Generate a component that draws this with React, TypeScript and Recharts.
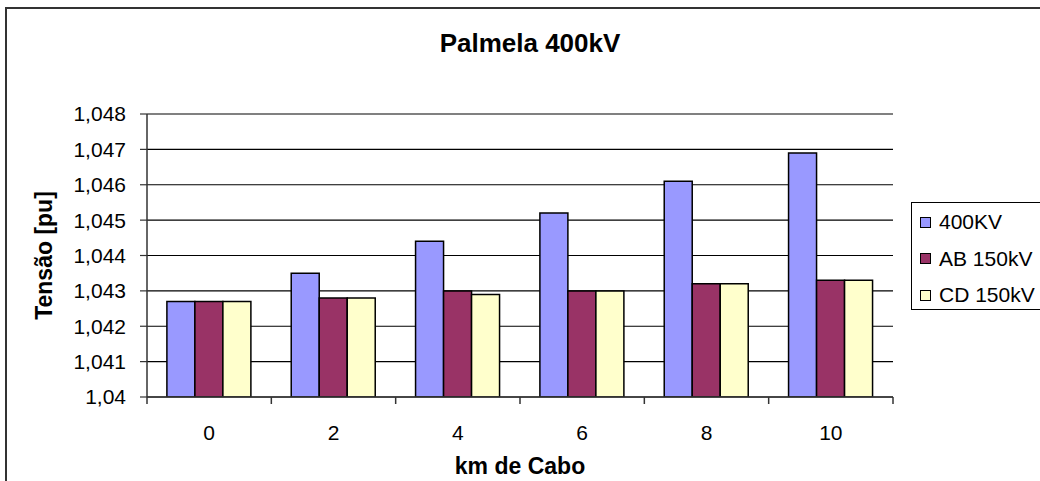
import React from 'react';
import { BarChart, Bar, XAxis, YAxis, CartesianGrid, Legend, ReferenceLine } from 'recharts';

const categories = ['0', '2', '4', '6', '8', '10'];
const s400KV = [1.0427, 1.0435, 1.0444, 1.0452, 1.0461, 1.0469];
const sAB150 = [1.0427, 1.0428, 1.043, 1.043, 1.0432, 1.0433];
const sCD150 = [1.0427, 1.0428, 1.0429, 1.043, 1.0432, 1.0433];
const yTicks = [1.04, 1.041, 1.042, 1.043, 1.044, 1.045, 1.046, 1.047, 1.048];
const seriesNames = ['400KV', 'AB 150kV', 'CD 150kV'];
const seriesColors = ['#9999FF', '#993366', '#FFFFCC'];

const data = categories.map((c, i) => ({
  km: c,
  a: s400KV[i],
  b: sAB150[i],
  c: sCD150[i],
}));

const FONT = '"Liberation Sans", Arial, sans-serif';
const X_TICK_SIZE = 6;
const X_TICK_MARGIN = 22;

const fmtY = (v: number) => Number(v.toFixed(3)).toString().replace('.', ',');

const XTick = (props: any) => {
  const { x, y, payload, index, visibleTicksCount } = props;
  const half = payload && payload.offset != null ? payload.offset : 0;
  const axisY = y - X_TICK_SIZE - X_TICK_MARGIN;
  return (
    <g>
      <line x1={x - half} x2={x - half} y1={axisY} y2={axisY + 7} stroke="#333" strokeWidth={1.5} />
      {index === visibleTicksCount - 1 && (
        <line x1={x + half} x2={x + half} y1={axisY} y2={axisY + 7} stroke="#333" strokeWidth={1.5} />
      )}
      <text x={x} y={y} dy="0.71em" textAnchor="middle" fill="#000" fontSize={21} fontFamily={FONT}>
        {payload.value}
      </text>
    </g>
  );
};

const LegendContent = () => (
  <div
    style={{
      borderTop: '1.5px solid #000',
      borderLeft: '1.5px solid #000',
      borderBottom: '1.5px solid #000',
      borderRight: 'none',
      height: 108,
      width: 129,
      boxSizing: 'border-box',
      paddingTop: 1,
      paddingLeft: 8,
      fontFamily: FONT,
      fontSize: 21,
      color: '#000',
      background: '#fff',
      overflow: 'hidden',
    }}
  >
    {seriesNames.map((n, i) => (
      <div key={n} style={{ display: 'flex', alignItems: 'center', height: 36.5, lineHeight: '24px', whiteSpace: 'nowrap' }}>
        <span
          style={{
            display: 'inline-block',
            width: 11,
            height: 11,
            background: seriesColors[i],
            border: '1px solid #000',
            boxSizing: 'border-box',
            marginRight: 8,
          }}
        />
        <span>{n}</span>
      </div>
    ))}
  </div>
);

export default function App() {
  return (
    <div style={{ position: 'absolute', left: 0, top: 0, width: 1040, height: 481, overflow: 'hidden', background: '#fff' }}>
      <style>{'html,body{overflow:hidden;}'}</style>
      <div
        style={{
          position: 'absolute',
          left: 5,
          top: 7,
          width: 1035,
          height: 474,
          borderTop: '2px solid #333',
          borderLeft: '2px solid #333',
          boxSizing: 'border-box',
        }}
      />
      <div
        style={{
          position: 'absolute',
          left: 0,
          top: 30,
          width: 1060,
          textAlign: 'center',
          fontFamily: FONT,
          fontWeight: 'bold',
          fontSize: 26,
          lineHeight: '26px',
          color: '#000',
          zIndex: 2,
        }}
      >
        Palmela 400kV
      </div>
      <BarChart
        width={1040}
        height={481}
        data={data}
        margin={{ top: 114, right: 147, bottom: 0, left: 0 }}
        barCategoryGap="16%"
        barGap={0}
        style={{ fontFamily: FONT }}
      >
        <CartesianGrid vertical={false} stroke="#000" strokeWidth={1.2} />
        <XAxis
          dataKey="km"
          height={84}
          tickLine={false}
          tickSize={X_TICK_SIZE}
          tickMargin={X_TICK_MARGIN}
          axisLine={{ stroke: '#333', strokeWidth: 1.5 }}
          tick={<XTick />}
          interval={0}
          label={{
            value: 'km de Cabo',
            position: 'insideBottom',
            offset: 7,
            fill: '#000',
            fontSize: 23,
            fontWeight: 'bold',
            fontFamily: FONT,
          }}
        />
        <YAxis
          type="number"
          domain={[1.04, 1.048]}
          ticks={yTicks}
          width={147}
          tickFormatter={fmtY}
          tickSize={7}
          tickMargin={14}
          interval={0}
          axisLine={{ stroke: '#333', strokeWidth: 1.5 }}
          tickLine={{ stroke: '#333', strokeWidth: 1.2 }}
          tick={{ fill: '#000', fontSize: 21, fontFamily: FONT }}
          allowDataOverflow
          label={{
            value: 'Tensão [pu]',
            angle: -90,
            position: 'center',
            dx: -29.5,
            fill: '#000',
            fontSize: 23,
            fontWeight: 'bold',
            fontFamily: FONT,
          }}
        />
        <YAxis
          yAxisId="r"
          orientation="right"
          type="number"
          domain={[1.04, 1.048]}
          width={0}
          tick={false}
          tickLine={false}
          axisLine={{ stroke: '#808080', strokeWidth: 1.5 }}
        />
        <ReferenceLine y={1.048} stroke="#808080" strokeWidth={1.5} />
        <Legend
          layout="vertical"
          align="center"
          verticalAlign="middle"
          content={<LegendContent />}
          wrapperStyle={{ left: 911, top: 202, width: 129, height: 108 }}
        />
        <Bar dataKey="a" name={seriesNames[0]} fill={seriesColors[0]} stroke="#000" strokeWidth={1.5} isAnimationActive={false} />
        <Bar dataKey="b" name={seriesNames[1]} fill={seriesColors[1]} stroke="#000" strokeWidth={1.5} isAnimationActive={false} />
        <Bar dataKey="c" name={seriesNames[2]} fill={seriesColors[2]} stroke="#000" strokeWidth={1.5} isAnimationActive={false} />
      </BarChart>
    </div>
  );
}
